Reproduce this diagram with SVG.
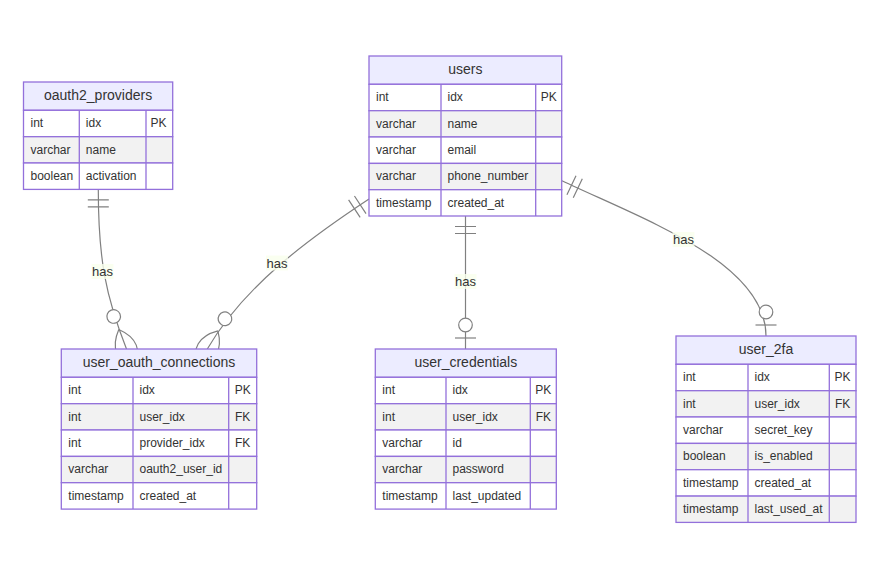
<svg xmlns="http://www.w3.org/2000/svg" width="880" height="578" viewBox="0 0 880 578">
<style>
.hdr{fill:#ECECFF;stroke:#9370DB;stroke-width:1.3}
.ra{fill:#ffffff;stroke:#9370DB;stroke-width:1.3}
.rb{fill:#f2f2f2;stroke:#9370DB;stroke-width:1.3}
.sep{stroke:#9370DB;stroke-width:1.3}
.ht{font-family:"Liberation Sans",Arial,sans-serif;font-size:14px;fill:#333;text-anchor:middle}
.at{font-family:"Liberation Sans",Arial,sans-serif;font-size:12px;fill:#333}
.k{text-anchor:middle}
.edge{fill:none;stroke:#808080;stroke-width:1.2}
.mk{fill:none;stroke:#808080;stroke-width:1.2}
.mc{fill:#ffffff;stroke:#808080;stroke-width:1.2}
.lb{fill:#f9ffec;opacity:0.8}
.lt{font-family:"Liberation Sans",Arial,sans-serif;font-size:13px;fill:#333;text-anchor:middle}
</style>
<defs>
<marker id="oneStart" markerUnits="userSpaceOnUse" orient="auto" refX="0" refY="0" markerWidth="24" markerHeight="24" viewBox="0 -12 24 24" overflow="visible">
<path class="mk" d="M10.5,-10.5 V10.5 M17.5,-10.5 V10.5"/>
</marker>
<marker id="zeroOneEnd" markerUnits="userSpaceOnUse" orient="auto" refX="0" refY="0" markerWidth="36" markerHeight="24" viewBox="-34 -12 36 24" overflow="visible">
<path class="mk" d="M-11,-10.5 V10.5"/>
<circle class="mc" cx="-24" cy="0" r="6.8"/>
</marker>
<marker id="zeroManyEnd" markerUnits="userSpaceOnUse" orient="auto" refX="0" refY="0" markerWidth="68" markerHeight="24" viewBox="-44 -12 68 24" overflow="visible">
<path class="mk" d="M-21,0 Q0,-21 21,0 Q0,21 -21,0"/>
<circle class="mc" cx="-35" cy="0" r="6.8"/>
</marker>
</defs>

<g id="connectors">
<path class="edge" d="M98.3,189.4 C98.3,260 106,297 126.5,349" marker-start="url(#oneStart)" marker-end="url(#zeroManyEnd)"/>
<path class="edge" d="M369,199 C308,239.2 244.1,286 207.3,349" marker-start="url(#oneStart)" marker-end="url(#zeroManyEnd)"/>
<path class="edge" d="M465.5,216 L465.5,349" marker-start="url(#oneStart)" marker-end="url(#zeroOneEnd)"/>
<path class="edge" d="M562,180.7 C640,218 766,262 766,336" marker-start="url(#oneStart)" marker-end="url(#zeroOneEnd)"/>
<rect class="lb" x="91.5" y="264" width="22" height="15"/>
<text class="lt" x="102.5" y="276">has</text>
<rect class="lb" x="266" y="255.5" width="22" height="15"/>
<text class="lt" x="277" y="267.5">has</text>
<rect class="lb" x="454.5" y="274" width="22" height="15"/>
<text class="lt" x="465.5" y="286">has</text>
<rect class="lb" x="672.5" y="232" width="22" height="15"/>
<text class="lt" x="683.5" y="244">has</text>
</g>

<g id="oauth2_providers">
<rect class="hdr" x="23.5" y="82" width="149.2" height="28.3"/>
<rect class="ra" x="23.5" y="110.3" width="149.2" height="26.4"/>
<rect class="rb" x="23.5" y="136.7" width="149.2" height="26.3"/>
<rect class="ra" x="23.5" y="163" width="149.2" height="26.4"/>
<line class="sep" x1="79.3" y1="110.3" x2="79.3" y2="189.4"/>
<line class="sep" x1="146" y1="110.3" x2="146" y2="189.4"/>
<text class="ht" x="98.1" y="100">oauth2_providers</text>
<text class="at" x="30.5" y="127.1">int</text><text class="at" x="85.8" y="127.1">idx</text><text class="at k" x="158.5" y="127.1">PK</text>
<text class="at" x="30.5" y="153.5">varchar</text><text class="at" x="85.8" y="153.5">name</text>
<text class="at" x="30.5" y="179.8">boolean</text><text class="at" x="85.8" y="179.8">activation</text>
</g>

<g id="users">
<rect class="hdr" x="369" y="56" width="192.7" height="28.3"/>
<rect class="ra" x="369" y="84.3" width="192.7" height="26.4"/>
<rect class="rb" x="369" y="110.7" width="192.7" height="26.3"/>
<rect class="ra" x="369" y="137" width="192.7" height="26.4"/>
<rect class="rb" x="369" y="163.4" width="192.7" height="26.3"/>
<rect class="ra" x="369" y="189.7" width="192.7" height="26.3"/>
<line class="sep" x1="441" y1="84.3" x2="441" y2="216"/>
<line class="sep" x1="535.7" y1="84.3" x2="535.7" y2="216"/>
<text class="ht" x="465.3" y="74">users</text>
<text class="at" x="376" y="101.1">int</text><text class="at" x="447.5" y="101.1">idx</text><text class="at k" x="548.7" y="101.1">PK</text>
<text class="at" x="376" y="127.5">varchar</text><text class="at" x="447.5" y="127.5">name</text>
<text class="at" x="376" y="153.8">varchar</text><text class="at" x="447.5" y="153.8">email</text>
<text class="at" x="376" y="180.2">varchar</text><text class="at" x="447.5" y="180.2">phone_number</text>
<text class="at" x="376" y="206.5">timestamp</text><text class="at" x="447.5" y="206.5">created_at</text>
</g>

<g id="user_oauth_connections">
<rect class="hdr" x="61.3" y="349" width="195.4" height="28.3"/>
<rect class="ra" x="61.3" y="377.3" width="195.4" height="26.4"/>
<rect class="rb" x="61.3" y="403.7" width="195.4" height="26.3"/>
<rect class="ra" x="61.3" y="430" width="195.4" height="26.4"/>
<rect class="rb" x="61.3" y="456.4" width="195.4" height="26.3"/>
<rect class="ra" x="61.3" y="482.7" width="195.4" height="26.4"/>
<line class="sep" x1="133" y1="377.3" x2="133" y2="509.1"/>
<line class="sep" x1="228.7" y1="377.3" x2="228.7" y2="509.1"/>
<text class="ht" x="159" y="367">user_oauth_connections</text>
<text class="at" x="68.3" y="394.1">int</text><text class="at" x="139.5" y="394.1">idx</text><text class="at k" x="242.7" y="394.1">PK</text>
<text class="at" x="68.3" y="420.5">int</text><text class="at" x="139.5" y="420.5">user_idx</text><text class="at k" x="242.7" y="420.5">FK</text>
<text class="at" x="68.3" y="446.8">int</text><text class="at" x="139.5" y="446.8">provider_idx</text><text class="at k" x="242.7" y="446.8">FK</text>
<text class="at" x="68.3" y="473.2">varchar</text><text class="at" x="139.5" y="473.2">oauth2_user_id</text>
<text class="at" x="68.3" y="499.5">timestamp</text><text class="at" x="139.5" y="499.5">created_at</text>
</g>

<g id="user_credentials">
<rect class="hdr" x="375.3" y="349" width="181" height="28.3"/>
<rect class="ra" x="375.3" y="377.3" width="181" height="26.4"/>
<rect class="rb" x="375.3" y="403.7" width="181" height="26.3"/>
<rect class="ra" x="375.3" y="430" width="181" height="26.4"/>
<rect class="rb" x="375.3" y="456.4" width="181" height="26.3"/>
<rect class="ra" x="375.3" y="482.7" width="181" height="26.4"/>
<line class="sep" x1="446" y1="377.3" x2="446" y2="509.1"/>
<line class="sep" x1="530.3" y1="377.3" x2="530.3" y2="509.1"/>
<text class="ht" x="465.8" y="367">user_credentials</text>
<text class="at" x="382.3" y="394.1">int</text><text class="at" x="452.5" y="394.1">idx</text><text class="at k" x="543.3" y="394.1">PK</text>
<text class="at" x="382.3" y="420.5">int</text><text class="at" x="452.5" y="420.5">user_idx</text><text class="at k" x="543.3" y="420.5">FK</text>
<text class="at" x="382.3" y="446.8">varchar</text><text class="at" x="452.5" y="446.8">id</text>
<text class="at" x="382.3" y="473.2">varchar</text><text class="at" x="452.5" y="473.2">password</text>
<text class="at" x="382.3" y="499.5">timestamp</text><text class="at" x="452.5" y="499.5">last_updated</text>
</g>

<g id="user_2fa">
<rect class="hdr" x="676" y="336" width="180" height="28.3"/>
<rect class="ra" x="676" y="364.3" width="180" height="26.4"/>
<rect class="rb" x="676" y="390.7" width="180" height="26.3"/>
<rect class="ra" x="676" y="417" width="180" height="26.4"/>
<rect class="rb" x="676" y="443.4" width="180" height="26.3"/>
<rect class="ra" x="676" y="469.7" width="180" height="26.4"/>
<rect class="rb" x="676" y="496.1" width="180" height="26.3"/>
<line class="sep" x1="748" y1="364.3" x2="748" y2="522.4"/>
<line class="sep" x1="829.3" y1="364.3" x2="829.3" y2="522.4"/>
<text class="ht" x="766" y="354">user_2fa</text>
<text class="at" x="683" y="381.1">int</text><text class="at" x="754.5" y="381.1">idx</text><text class="at k" x="842.6" y="381.1">PK</text>
<text class="at" x="683" y="407.5">int</text><text class="at" x="754.5" y="407.5">user_idx</text><text class="at k" x="842.6" y="407.5">FK</text>
<text class="at" x="683" y="433.8">varchar</text><text class="at" x="754.5" y="433.8">secret_key</text>
<text class="at" x="683" y="460.2">boolean</text><text class="at" x="754.5" y="460.2">is_enabled</text>
<text class="at" x="683" y="486.5">timestamp</text><text class="at" x="754.5" y="486.5">created_at</text>
<text class="at" x="683" y="512.9">timestamp</text><text class="at" x="754.5" y="512.9">last_used_at</text>
</g>
</svg>
